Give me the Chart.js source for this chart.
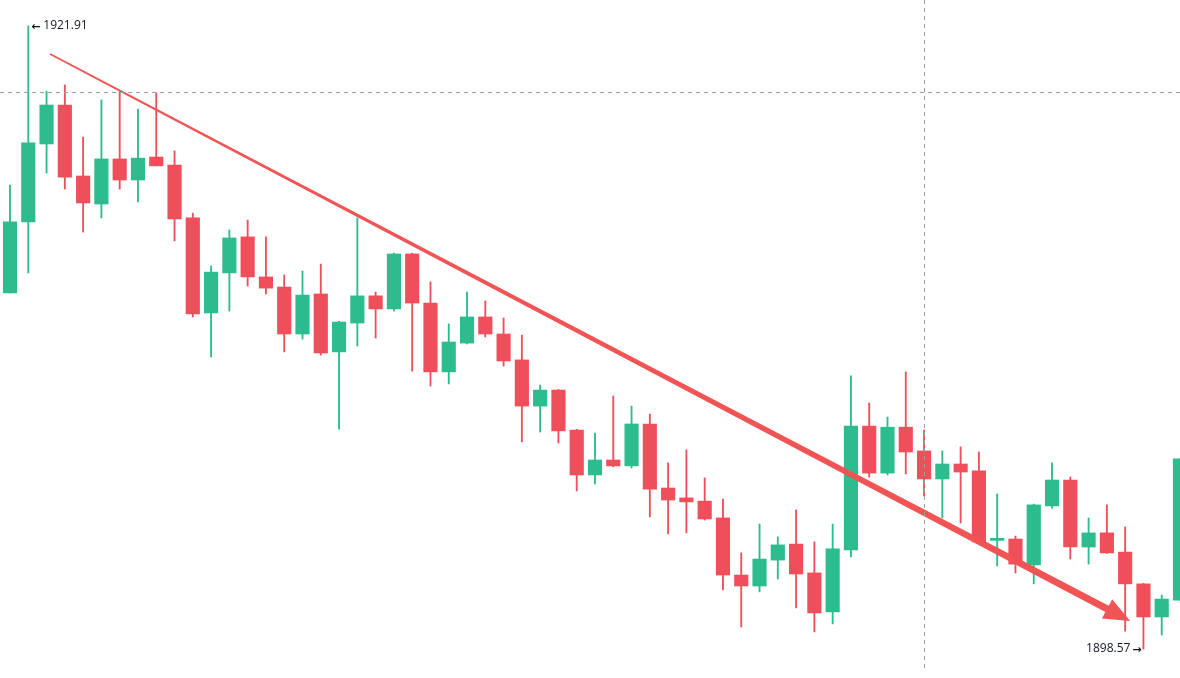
<!DOCTYPE html>
<html>
<head>
<meta charset="utf-8">
<script src="https://cdn.jsdelivr.net/npm/chart.js@4.4.1/dist/chart.umd.min.js"></script>
<style>
  html, body { margin:0; padding:0; background:#fff; }
  #wrap { width:1180px; height:678px; position:relative; }
</style>
</head>
<body>
<div id="wrap"><canvas id="candles"></canvas></div>
<script>
// ============================================================
// OHLC data
// ============================================================
const opens  = [1911.91,1914.57,1917.49,1918.95,1916.29,1915.24,1916.93,1916.14,1917.00,1916.70,
                1914.72,1911.16,1912.66,1914.01,1912.51,1912.13,1910.37,1911.87,1909.70,1910.78,
                1911.80,1911.31,1913.37,1911.53,1908.95,1910.03,1911.01,1910.37,1909.40,1907.67,
                1908.27,1906.77,1905.09,1905.65,1905.43,1907.00,1904.60,1904.23,1904.11,1903.48,
                1901.34,1900.93,1901.90,1902.50,1901.42,1899.96,1902.28,1906.92,1905.16,1906.88,
                1905.99,1904.94,1905.50,1905.24,1902.64,1902.69,1901.72,1903.93,1904.90,1902.39,
                1902.92,1902.20,1901.01,1899.77,1900.40];
const highs  = [1915.95,1921.91,1919.47,1919.70,1917.75,1919.14,1919.44,1918.80,1919.40,1917.23,
                1914.90,1912.92,1914.27,1914.64,1914.01,1912.58,1912.73,1912.99,1910.85,1914.72,
                1911.94,1913.40,1913.40,1912.32,1910.75,1911.94,1911.61,1910.97,1910.33,1908.46,
                1908.29,1906.80,1906.66,1908.05,1907.67,1907.37,1905.54,1906.03,1904.98,1904.19,
                1902.17,1903.25,1902.77,1903.78,1902.58,1903.25,1908.80,1907.79,1907.26,1908.95,
                1906.77,1905.99,1906.14,1905.95,1904.38,1902.80,1904.00,1905.54,1905.01,1903.48,
                1903.97,1903.14,1901.03,1900.59,1905.69];
const lows   = [1911.91,1912.66,1916.40,1915.80,1914.19,1914.72,1915.80,1915.32,1916.67,1913.86,
                1911.01,1909.51,1911.23,1912.17,1911.87,1909.70,1910.18,1909.58,1906.81,1909.92,
                1910.22,1911.23,1908.98,1908.42,1908.50,1910.00,1910.26,1909.17,1906.33,1906.70,
                1906.29,1904.49,1904.75,1905.39,1905.35,1903.52,1902.88,1902.92,1903.40,1900.78,
                1899.39,1900.71,1901.19,1900.11,1899.21,1899.51,1902.02,1905.01,1905.09,1905.13,
                1904.30,1903.48,1903.29,1902.55,1901.68,1901.42,1901.01,1903.85,1901.94,1901.75,
                1902.15,1899.24,1898.57,1899.09,1900.40];
const closes = [1914.57,1917.53,1918.95,1916.25,1915.28,1916.93,1916.14,1916.96,1916.67,1914.68,
                1911.12,1912.69,1913.97,1912.51,1912.09,1910.37,1911.83,1909.66,1910.82,1911.80,
                1911.31,1913.37,1911.53,1908.95,1910.07,1911.01,1910.37,1909.36,1907.67,1908.27,
                1906.74,1905.09,1905.65,1905.43,1907.00,1904.56,1904.15,1904.08,1903.44,1901.34,
                1900.93,1901.94,1902.47,1901.38,1899.92,1902.32,1906.92,1905.16,1906.88,1905.95,
                1904.94,1905.50,1905.20,1902.58,1902.68,1901.75,1903.97,1904.90,1902.39,1902.92,
                1902.17,1901.01,1899.77,1900.44,1905.69];

// crosshair position (bar index / price)
const crossIndex = 50;
const crossPrice = 1919.44;

// trend arrow drawn on the chart (bar index / price)
const trendStart = { x: 2.19,  y: 1920.86 };
const trendEnd   = { x: 61.27, y: 1899.62 };

// ============================================================
const UP = '#2dbc8e', DOWN = '#ef4f5b', ARROW = '#f05454';
const idx = opens.map((_, i) => i);
const colors = idx.map(i => closes[i] >= opens[i] ? UP : DOWN);

const hiIdx = highs.indexOf(Math.max(...highs));
const loIdx = lows.indexOf(Math.min(...lows));

const overlay = {
  id: 'overlay',
  afterDatasetsDraw(chart) {
    const { ctx, scales: { x, y } } = chart;
    ctx.save();

    // tapered trend arrow
    const x0 = x.getPixelForValue(trendStart.x), y0 = y.getPixelForValue(trendStart.y);
    const x1 = x.getPixelForValue(trendEnd.x),   y1 = y.getPixelForValue(trendEnd.y);
    const len = Math.hypot(x1 - x0, y1 - y0);
    const ux = (x1 - x0) / len, uy = (y1 - y0) / len;
    const px = -uy, py = ux;
    const head = 26, headW = 11, w0 = 0.8, w1 = 3.6;
    const bx = x1 - ux * head, by = y1 - uy * head;
    ctx.fillStyle = ARROW;
    ctx.beginPath();
    ctx.moveTo(x0 + px * w0, y0 + py * w0);
    ctx.lineTo(bx + px * w1, by + py * w1);
    ctx.lineTo(bx + px * headW, by + py * headW);
    ctx.lineTo(x1, y1);
    ctx.lineTo(bx - px * headW, by - py * headW);
    ctx.lineTo(bx - px * w1, by - py * w1);
    ctx.lineTo(x0 - px * w0, y0 - py * w0);
    ctx.closePath();
    ctx.fill();

    // crosshair
    ctx.strokeStyle = '#9a9ca3';
    ctx.lineWidth = 1;
    ctx.setLineDash([4, 4]);
    const cx = Math.round(x.getPixelForValue(crossIndex)) + 0.5;
    const cy = Math.round(y.getPixelForValue(crossPrice)) + 0.5;
    ctx.beginPath();
    ctx.moveTo(cx, 0); ctx.lineTo(cx, chart.height - 6);
    ctx.moveTo(0, cy); ctx.lineTo(chart.width, cy);
    ctx.stroke();
    ctx.setLineDash([]);

    // high / low labels
    ctx.fillStyle = '#131722';
    ctx.textBaseline = 'middle';
    const numFont = '12px "Open Sans", Roboto, sans-serif';
    const arrFont = 'bold 11px "DejaVu Sans", sans-serif';
    const hx = x.getPixelForValue(hiIdx), hy = y.getPixelForValue(highs[hiIdx]);
    ctx.textAlign = 'left';
    ctx.font = arrFont; ctx.fillText('\u2190', hx + 3, hy + 1);
    ctx.font = numFont; ctx.fillText(highs[hiIdx].toFixed(2), hx + 15, hy);
    const lx = x.getPixelForValue(loIdx), ly = y.getPixelForValue(lows[loIdx]);
    ctx.textAlign = 'right';
    ctx.font = arrFont; ctx.fillText('\u2192', lx - 2, ly + 1);
    ctx.font = numFont; ctx.fillText(lows[loIdx].toFixed(2), lx - 13, ly);

    ctx.restore();
  }
};

new Chart(document.getElementById('candles'), {
  type: 'bar',
  data: {
    datasets: [
      { label: 'wick', data: idx.map(i => ({ x: i, y: [lows[i], highs[i]] })),
        backgroundColor: colors, barThickness: 1.2, grouped: false, borderWidth: 0 },
      { label: 'body', data: idx.map(i => ({ x: i, y: [opens[i], closes[i]] })),
        backgroundColor: colors, barThickness: 13.5, grouped: false, borderWidth: 0, minBarLength: 2 }
    ]
  },
  options: {
    responsive: true, maintainAspectRatio: false, animation: false,
    layout: { padding: 0 },
    plugins: { legend: { display: false }, tooltip: { enabled: false } },
    scales: {
      x: { type: 'linear', display: false, offset: false, min: -0.547, max: 64.0 },
      y: { display: false, min: 1897.483, max: 1922.884 }
    }
  },
  plugins: [overlay]
});
</script>
</body>
</html>
